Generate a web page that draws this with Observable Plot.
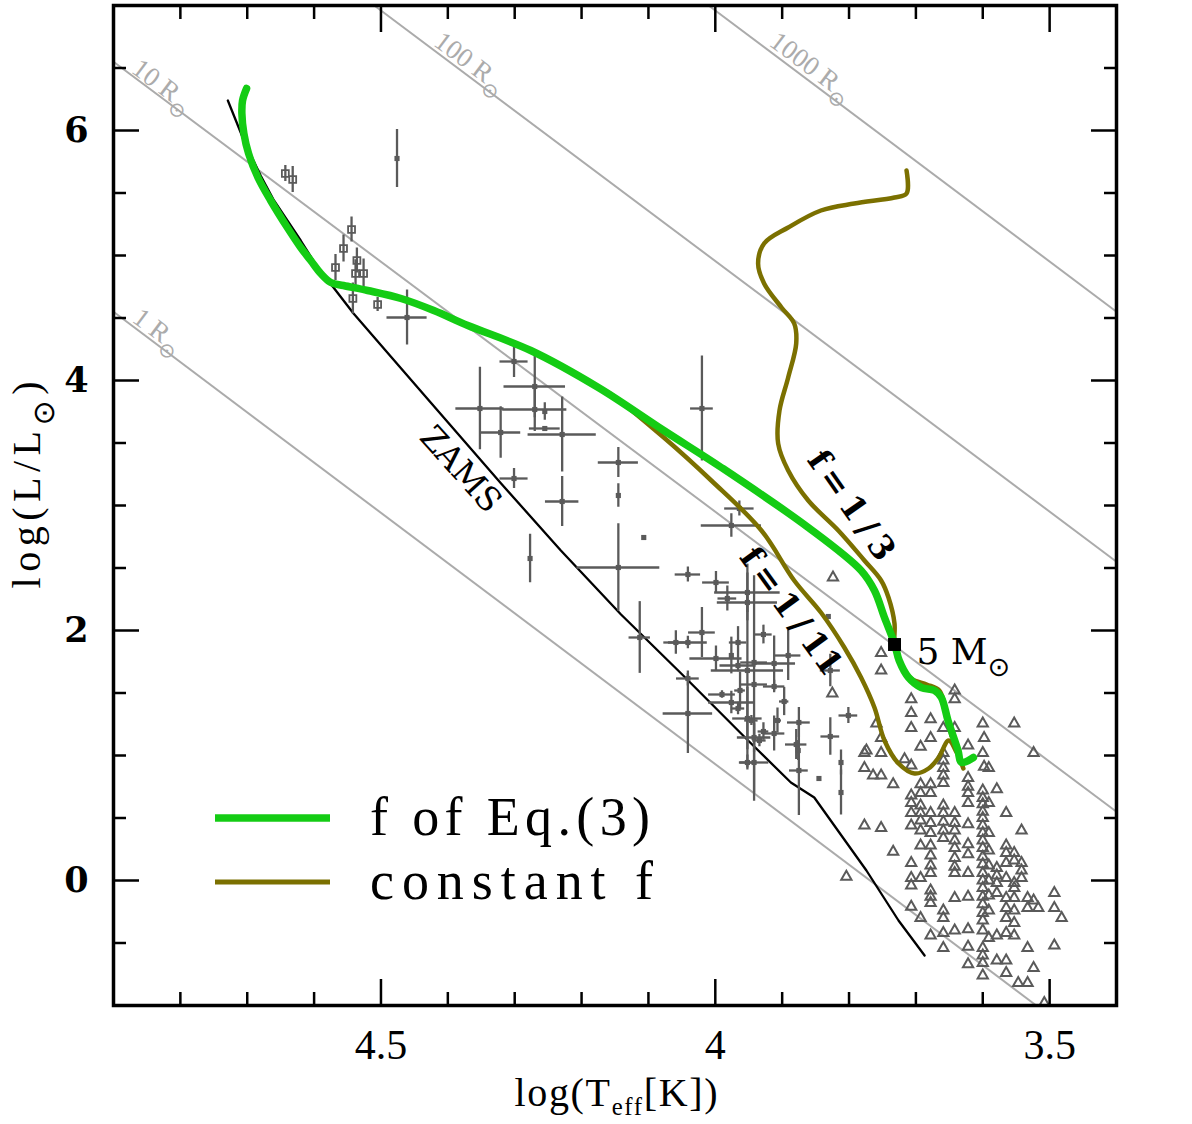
<!DOCTYPE html>
<html>
<head>
<meta charset="utf-8">
<script src="https://cdn.jsdelivr.net/npm/d3@7"></script>
<script src="https://cdn.jsdelivr.net/npm/@observablehq/plot@0.6"></script>
<style>
  body { margin: 0; background: #fff; }
</style>
</head>
<body>
<div id="chart"></div>
<script>
// ---------------- data (log Teff [K], log L/Lsun) ----------------

// zero-age main sequence
const zamsT = [4.729, 4.705, 4.680, 4.660, 4.620, 4.590, 4.571, 4.541, 4.485, 4.425, 4.321, 4.231, 4.141, 4.051, 3.951, 3.887, 3.852, 3.774, 3.726, 3.687];
const zamsL = [6.24, 5.92, 5.64, 5.44, 5.12, 4.864, 4.744, 4.536, 4.19, 3.82, 3.18, 2.64, 2.128, 1.656, 1.12, 0.784, 0.664, 0.08, -0.32, -0.60];

// track with f from Eq.(3)
const trackEqT = [4.701, 4.707, 4.708, 4.705, 4.698, 4.684, 4.665, 4.640, 4.620, 4.605, 4.590, 4.575, 4.556, 4.520, 4.470, 4.421, 4.370, 4.276, 4.175, 4.077, 3.991, 3.861, 3.782, 3.762, 3.747, 3.732, 3.725, 3.711, 3.692, 3.672, 3.662, 3.652, 3.637, 3.632, 3.614];
const trackEqL = [6.336, 6.24, 6.136, 5.976, 5.816, 5.624, 5.44, 5.224, 5.064, 4.96, 4.856, 4.784, 4.76, 4.72, 4.656, 4.56, 4.44, 4.24, 3.944, 3.60, 3.304, 2.824, 2.48, 2.32, 2.104, 1.896, 1.76, 1.624, 1.544, 1.52, 1.464, 1.28, 1.04, 0.944, 0.984];

// constant f = 1/11 (shares the early path with the Eq.(3) track)
const track11T = [4.701, 4.707, 4.708, 4.705, 4.698, 4.684, 4.665, 4.640, 4.620, 4.605, 4.590, 4.575, 4.556, 4.520, 4.470, 4.421, 4.370, 4.276, 4.175, 4.160, 4.077, 4.006, 3.931, 3.882, 3.842, 3.807, 3.782, 3.762, 3.747, 3.726, 3.702, 3.681, 3.666, 3.651, 3.639, 3.629];
const track11L = [6.336, 6.24, 6.136, 5.976, 5.816, 5.624, 5.44, 5.224, 5.064, 4.96, 4.856, 4.784, 4.76, 4.72, 4.656, 4.56, 4.44, 4.24, 3.944, 3.904, 3.544, 3.20, 2.80, 2.40, 2.144, 1.864, 1.624, 1.384, 1.12, 0.936, 0.856, 0.896, 0.984, 1.12, 1.024, 0.896];

// constant f = 1/3
const track3T = [3.714, 3.714, 3.732, 3.792, 3.842, 3.891, 3.927, 3.936, 3.927, 3.901, 3.882, 3.879, 3.891, 3.904, 3.906, 3.891, 3.861, 3.816, 3.777, 3.752, 3.741, 3.732, 3.732, 3.725, 3.707, 3.684, 3.665, 3.655, 3.647];
const track3L = [5.68, 5.496, 5.464, 5.416, 5.36, 5.224, 5.096, 4.936, 4.776, 4.584, 4.456, 4.296, 4.024, 3.76, 3.496, 3.28, 3.04, 2.80, 2.56, 2.40, 2.264, 2.056, 1.896, 1.76, 1.616, 1.568, 1.52, 1.36, 1.16];

// 5 Msun reference point
const refStar = {T: 3.732, L: 1.888, label: "5 M⊙"};

// hot stars with error bars: [logT, logL, dlogT, dlogL]
const openStars = [
  [4.643, 5.656, 0, 0.064], [4.632, 5.608, 0, 0.104], [4.544, 5.208, 0, 0.10],
  [4.556, 5.056, 0, 0.108], [4.568, 4.904, 0, 0.104], [4.536, 4.96, 0, 0.10],
  [4.538, 4.856, 0, 0.11], [4.526, 4.856, 0, 0.116], [4.542, 4.656, 0, 0.124],
  [4.505, 4.608, 0, 0.056]
];
const filledStars = [
  [4.476, 5.776, 0, 0.232], [4.461, 4.504, 0.030, 0.22], [4.301, 4.152, 0.021, 0.128],
  [4.270, 3.952, 0.046, 0.25], [4.270, 3.768, 0.048, 0.176], [4.352, 3.776, 0.036, 0.33],
  [4.255, 3.752, 0, 0.07], [4.255, 3.616, 0.023, 0], [4.321, 3.584, 0.03, 0.206],
  [4.229, 3.568, 0.051, 0.30], [4.229, 3.032, 0.025, 0.20], [4.301, 3.216, 0.021, 0.08],
  [4.277, 2.576, 0, 0.194], [4.145, 3.344, 0.03, 0.12], [4.145, 3.08, 0, 0.094],
  [4.107, 2.744, 0, 0], [4.145, 2.504, 0.062, 0.35], [4.041, 2.448, 0.019, 0.06],
  [4.020, 3.776, 0.017, 0.42], [3.964, 2.976, 0.022, 0.06], [3.976, 2.84, 0.045, 0.094],
  [4.113, 1.944, 0.016, 0.287], [4.041, 1.616, 0.017, 0.06], [4.041, 1.336, 0.037, 0.32],
  [3.999, 2.384, 0.02, 0.088], [3.982, 2.256, 0.014, 0.10], [3.952, 2.304, 0.049, 0.227],
  [3.952, 2.224, 0.045, 0.08], [3.928, 1.968, 0.013, 0.075], [3.891, 1.80, 0.019, 0.20],
  [4.020, 1.984, 0.02, 0.20], [4.059, 1.904, 0.018, 0.094], [4.041, 1.904, 0.029, 0.05],
  [3.999, 1.776, 0.039, 0.10], [3.976, 1.80, 0, 0.147], [3.966, 1.904, 0.013, 0.127],
  [3.966, 1.72, 0.027, 0.05], [3.952, 1.68, 0.054, 0.78], [3.942, 1.568, 0.02, 0.87],
  [3.942, 1.744, 0.02, 0], [3.912, 1.736, 0.032, 0.22], [3.912, 1.552, 0.016, 0.05],
  [3.897, 1.432, 0.007, 0.113], [3.990, 1.488, 0.02, 0.03], [3.976, 1.424, 0.034, 0.09],
  [3.963, 1.52, 0.008, 0.147], [3.966, 1.376, 0.01, 0.05], [3.952, 1.296, 0.022, 0.25],
  [3.946, 1.28, 0.01, 0.04], [3.928, 1.192, 0.008, 0.07], [3.942, 1.144, 0.025, 0.12],
  [3.934, 1.12, 0.01, 0.05], [3.912, 1.176, 0.016, 0.14], [3.907, 1.28, 0.006, 0.10],
  [3.875, 1.264, 0.017, 0.12], [3.879, 1.088, 0.016, 0.12], [3.876, 1.04, 0, 0.08],
  [3.875, 0.88, 0.014, 0.36], [3.942, 0.944, 0.022, 0.31], [3.952, 0.944, 0.011, 0.06],
  [3.845, 0.816, 0, 0], [3.828, 1.152, 0.014, 0.15], [3.812, 0.944, 0, 0.10],
  [3.812, 0.704, 0, 0.18], [3.831, 2.112, 0, 0], [3.828, 1.68, 0.015, 0.13],
  [3.801, 1.32, 0.014, 0.064]
];

// cool young stars: [logT, logL]
const coolStars = [
  [3.752,1.82],[3.752,1.68],[3.707,1.45],[3.707,1.34],[3.707,1.22],[3.642,1.52],[3.642,1.45],
  [3.678,1.29],[3.659,1.22],[3.642,1.22],[3.678,1.14],[3.693,1.07],[3.622,1.08],[3.600,1.256],
  [3.598,1.14],[3.600,1.02],[3.598,0.91],[3.591,0.90],[3.553,1.256],[3.524,1.02],[3.759,1.256],
  [3.752,1.14],[3.777,1.02],[3.774,1.04],[3.752,1.02],[3.777,0.90],[3.764,0.84],[3.752,0.84],
  [3.734,0.77],[3.717,0.97],[3.707,0.92],[3.659,1.02],[3.659,0.96],[3.659,0.90],[3.659,0.84],
  [3.659,0.78],[3.622,0.82],[3.622,0.75],[3.622,0.70],[3.622,0.62],[3.693,0.77],[3.678,0.77],
  [3.693,0.70],[3.678,0.70],[3.707,0.68],[3.707,0.62],[3.693,0.60],[3.600,0.72],[3.600,0.66],
  [3.600,0.61],[3.600,0.55],[3.600,0.50],[3.600,0.44],[3.579,0.73],[3.591,0.62],[3.565,0.54],
  [3.542,0.40],[3.777,0.44],[3.752,0.42],[3.734,0.23],[3.804,0.03],[3.707,0.54],[3.707,0.44],
  [3.693,0.54],[3.693,0.48],[3.693,0.40],[3.678,0.54],[3.678,0.46],[3.678,0.38],[3.659,0.60],
  [3.659,0.54],[3.659,0.47],[3.659,0.40],[3.659,0.34],[3.642,0.54],[3.642,0.46],[3.642,0.40],
  [3.642,0.32],[3.642,0.26],[3.642,0.18],[3.642,0.11],[3.642,0.06],[3.622,0.45],[3.622,0.29],
  [3.622,0.21],[3.622,0.06],[3.622,-0.13],[3.622,-0.39],[3.622,-0.53],[3.622,-0.67],
  [3.600,0.38],[3.600,0.32],[3.600,0.26],[3.600,0.19],[3.600,0.13],[3.600,0.06],[3.600,0.0],
  [3.600,-0.06],[3.600,-0.13],[3.600,-0.19],[3.600,-0.26],[3.600,-0.32],[3.600,-0.40],
  [3.600,-0.54],[3.600,-0.60],[3.600,-0.66],[3.600,-0.76],
  [3.591,0.38],[3.591,0.24],[3.591,0.12],[3.591,0.0],[3.591,-0.12],[3.591,-0.24],
  [3.579,0.10],[3.579,0.04],[3.579,-0.02],[3.579,-0.10],[3.579,-0.44],[3.579,-0.64],
  [3.565,0.28],[3.565,0.22],[3.553,0.22],[3.565,0.14],[3.553,0.16],[3.542,0.14],[3.542,0.08],
  [3.542,0.02],[3.565,0.02],[3.553,-0.02],[3.565,-0.14],[3.553,-0.14],[3.533,-0.14],[3.524,-0.16],
  [3.517,-0.22],[3.493,-0.10],[3.493,-0.22],[3.482,-0.30],[3.533,-0.22],[3.553,-0.24],[3.707,0.02],
  [3.693,0.02],[3.707,-0.04],[3.678,0.06],[3.678,-0.08],[3.678,-0.13],[3.678,-0.18],[3.678,0.28],
  [3.678,0.20],[3.678,0.12],[3.693,0.28],[3.659,-0.24],[3.659,-0.30],[3.642,-0.14],[3.707,-0.21],
  [3.693,-0.30],[3.678,-0.44],[3.659,-0.42],[3.642,-0.40],[3.659,-0.54],[3.591,-0.46],[3.565,-0.42],
  [3.553,-0.44],[3.565,-0.30],[3.553,-0.34],[3.565,-0.22],[3.565,-0.64],[3.565,-0.74],[3.524,-0.70],
  [3.533,-0.54],[3.493,-0.52],[3.547,-0.82],[3.533,-0.82],[3.508,-0.98],[3.824,2.424],[3.825,1.496],
  [3.707,0.14],[3.553,-0.06]
];

// lines of constant radius: end points where they cross the frame
const radiusLabels = ["1 R⊙", "10 R⊙", "100 R⊙", "1000 R⊙"];
const radiusT0 = [4.90, 4.90, 4.51, 4.01];
const radiusL0 = [4.55, 6.55, 7.00, 7.00];
const radiusT1 = [3.52, 3.40, 3.40, 3.40];
const radiusL1 = [-1.00, 0.55, 2.55, 4.55];

// axis ticks
const xMajor = [4.5, 4, 3.5];
const xMinor = [4.8, 4.7, 4.6, 4.4, 4.3, 4.2, 4.1, 3.9, 3.8, 3.7, 3.6];
const yMajor = [0, 2, 4, 6];
const yMinor = [-0.5, 0.5, 1, 1.5, 2.5, 3, 3.5, 4.5, 5, 5.5, 6.5];

// ---------------- tables ----------------
const toTrack = (T, L) => T.map((t, i) => ({T: t, L: L[i]}));
const zams = toTrack(zamsT, zamsL);
const trackEq = toTrack(trackEqT, trackEqL);
const track11 = toTrack(track11T, track11L);
const track3 = toTrack(track3T, track3L);
const toStars = rows => rows.map(([T, L, dT, dL]) => ({T, L, dT, dL}));
const open = toStars(openStars);
const filled = toStars(filledStars);
const errStars = open.concat(filled);
const cool = coolStars.map(([T, L]) => ({T, L}));
const radii = radiusLabels.map((label, i) => ({
  label, t0: radiusT0[i], l0: radiusL0[i], t1: radiusT1[i], l1: radiusL1[i]
}));

// placement of the text annotations
const radiusLabelPos = [
  {T: 4.833, L: 4.40}, {T: 4.826, L: 6.36}, {T: 4.366, L: 6.545}, {T: 3.856, L: 6.512}
];
const radiusText = radii.map((d, i) => ({...d, ...radiusLabelPos[i]}));
const thin = "\u2009";
const zamsNote = [{text: "ZAMS", T: 4.381, L: 3.288, angle: 48}];
const fNotes = [
  {text: `f${thin}=${thin}1${thin}/${thin}3`, T: 3.797, L: 3.0, angle: 55},
  {text: `f${thin}=${thin}1${thin}/${thin}11`, T: 3.887, L: 2.152, angle: 54}
];

// ---------------- styles ----------------
const gray = "#5a5a5a";
const lightGray = "#ababab";
const green = "#14cc14";
const olive = "#7b7000";
const serif = "Liberation Serif, DejaVu Serif, serif";
const heavySerif = "DejaVu Serif, serif";
const tickW = 2.5;

const chart = Plot.plot({
  width: 1192,
  height: 1124,
  marginLeft: 113,
  marginRight: 76,
  marginTop: 5,
  marginBottom: 119,
  x: {domain: [4.9, 3.4]},
  y: {domain: [-1, 7]},
  style: {background: "white", overflow: "visible"},
  marks: [
    // constant-radius lines
    Plot.link(radii, {x1: "t0", y1: "l0", x2: "t1", y2: "l1", stroke: lightGray, strokeWidth: 2}),
    Plot.text(radiusText, {x: "T", y: "L", text: "label", rotate: 36.8, fill: lightGray,
      fontSize: 27, fontFamily: serif}),

    // ZAMS
    Plot.line(zams, {x: "T", y: "L", stroke: "black", strokeWidth: 2.3}),

    // cool stars
    Plot.dot(cool, {x: "T", y: "L", symbol: "triangle", r: 3.8, stroke: gray, strokeWidth: 2, fill: "none"}),

    // error bars
    Plot.ruleX(errStars.filter(d => d.dL > 0), {x: "T", y1: d => d.L - d.dL, y2: d => d.L + d.dL,
      stroke: gray, strokeWidth: 2.3}),
    Plot.ruleY(errStars.filter(d => d.dT > 0), {y: "L", x1: d => d.T - d.dT, x2: d => d.T + d.dT,
      stroke: gray, strokeWidth: 2.3}),
    Plot.dot(filled, {x: "T", y: "L", symbol: "square", r: 2.9, fill: gray}),
    Plot.dot(open, {x: "T", y: "L", symbol: "square", r: 3.9, stroke: gray, strokeWidth: 1.8, fill: "none"}),

    // evolutionary tracks
    Plot.line(track3, {x: "T", y: "L", stroke: olive, strokeWidth: 4.5, curve: "catmull-rom"}),
    Plot.line(track11, {x: "T", y: "L", stroke: olive, strokeWidth: 4.5, curve: "catmull-rom"}),
    Plot.line(trackEq, {x: "T", y: "L", stroke: green, strokeWidth: 7.5, curve: "catmull-rom"}),

    // 5 Msun marker
    Plot.dot([refStar], {x: "T", y: "L", symbol: "square", r: 7.3, fill: "black"}),
    Plot.text([refStar], {x: "T", y: "L", text: "label", textAnchor: "start", dx: 22, dy: 8,
      fontSize: 36, fontFamily: heavySerif, fill: "black"}),

    // annotations along curves
    Plot.text(zamsNote, {x: "T", y: "L", text: "text", rotate: "angle", fontSize: 33,
      fontFamily: heavySerif, fill: "black"}),
    Plot.text(fNotes, {x: "T", y: "L", text: "text", rotate: "angle", fontSize: 33,
      fontFamily: heavySerif, fontWeight: "bold", fill: "black"}),

    // ticks (inward, all four sides)
    Plot.axisX(xMinor, {anchor: "bottom", tickSize: -13, fill: "none", label: null, strokeWidth: tickW}),
    Plot.axisX(xMinor, {anchor: "top", tickSize: -13, fill: "none", label: null, strokeWidth: tickW}),
    Plot.axisX(xMajor, {anchor: "bottom", tickSize: -26, fill: "none", label: null, strokeWidth: tickW}),
    Plot.axisX(xMajor, {anchor: "top", tickSize: -26, fill: "none", label: null, strokeWidth: tickW}),
    Plot.axisY(yMinor, {anchor: "left", tickSize: -13, fill: "none", label: null, strokeWidth: tickW}),
    Plot.axisY(yMinor, {anchor: "right", tickSize: -13, fill: "none", label: null, strokeWidth: tickW}),
    Plot.axisY(yMajor, {anchor: "left", tickSize: -26, fill: "none", label: null, strokeWidth: tickW}),
    Plot.axisY(yMajor, {anchor: "right", tickSize: -26, fill: "none", label: null, strokeWidth: tickW}),

    // tick labels
    Plot.axisX(xMajor, {anchor: "bottom", tickSize: 0, tickPadding: 24, label: null,
      tickFormat: d => String(d), fontSize: 42, fontFamily: serif, fill: "black"}),
    Plot.axisY(yMajor, {anchor: "left", tickSize: 0, tickPadding: 25, label: null,
      tickFormat: d => String(d), fontSize: 35, fontFamily: heavySerif, fontWeight: "bold", fill: "black"}),

    Plot.frame({stroke: "black", strokeWidth: 3.5})
  ]
});

// ---------------- text details ----------------
const NS = "http://www.w3.org/2000/svg";
function tspan(parent, text, attrs = {}) {
  const t = document.createElementNS(NS, "tspan");
  t.textContent = text;
  for (const [k, v] of Object.entries(attrs)) t.setAttribute(k, v);
  parent.appendChild(t);
  return t;
}
// solar symbol as a lowered subscript
function subscriptSun(el) {
  const s = el.textContent;
  const i = s.indexOf("⊙");
  if (i < 0) return;
  el.textContent = "";
  tspan(el, s.slice(0, i));
  tspan(el, "⊙", {dy: "0.45em", "font-size": "0.75em", "font-family": "DejaVu Sans"});
  const rest = s.slice(i + 1);
  if (rest) tspan(el, rest, {dy: "-0.34em"});
}
d3.select(chart).selectAll("text").each(function () {
  if (this.children.length === 0) subscriptSun(this);
});

const svg = d3.select(chart);

// axis titles
const xTitle = svg.append("text")
  .attr("x", 616).attr("y", 1106)
  .attr("text-anchor", "middle")
  .attr("font-family", serif).attr("font-size", 40).attr("fill", "black")
  .attr("textLength", 203).attr("lengthAdjust", "spacing");
tspan(xTitle.node(), "log(T");
tspan(xTitle.node(), "eff", {dy: "0.35em", "font-size": "0.62em"});
tspan(xTitle.node(), "[K])", {dy: "-0.22em"});

const yTitle = svg.append("text")
  .attr("transform", "translate(40,485) rotate(-90)")
  .attr("text-anchor", "middle")
  .attr("font-family", serif).attr("font-size", 40).attr("fill", "black")
  .attr("textLength", 207).attr("lengthAdjust", "spacing")
  .text("log(L/L⊙)");
subscriptSun(yTitle.node());

// legend
const legend = svg.append("g");
const legendItems = [
  {label: "f of Eq.(3)", color: green, width: 7.5, y: 818, len: 280},
  {label: "constant f", color: olive, width: 5, y: 882, len: 283}
];
for (const it of legendItems) {
  legend.append("line")
    .attr("x1", 215).attr("x2", 330).attr("y1", it.y).attr("y2", it.y)
    .attr("stroke", it.color).attr("stroke-width", it.width);
  legend.append("text")
    .attr("x", 370).attr("y", it.y + 17)
    .attr("text-anchor", "start")
    .attr("font-family", serif).attr("font-size", 54).attr("fill", "black")
    .attr("textLength", it.len).attr("lengthAdjust", "spacing")
    .text(it.label);
}

document.getElementById("chart").appendChild(chart);
</script>
</body>
</html>
